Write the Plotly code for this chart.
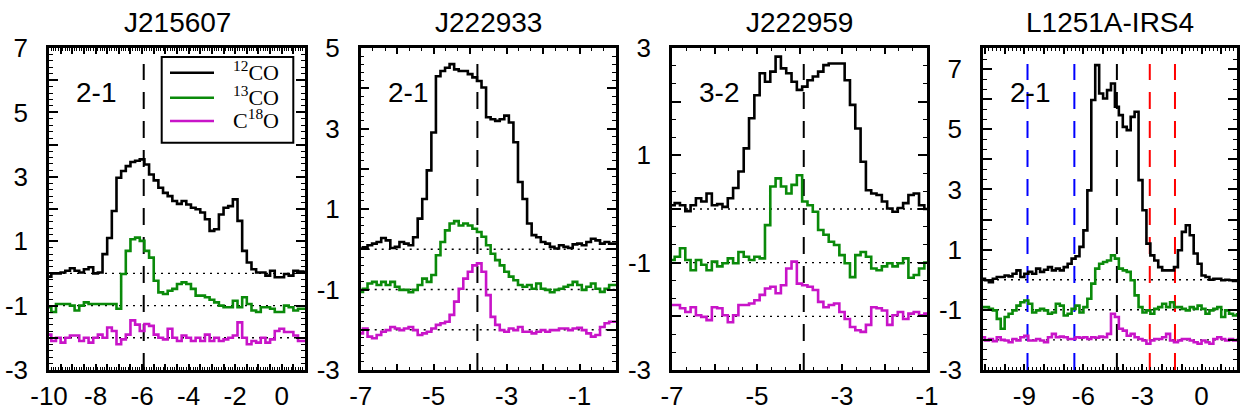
import plotly.graph_objects as go

W, H = 1241, 417

# ---------------- data ----------------
TITLES = ["J215607", "J222933", "J222959", "L1251A-IRS4"]
TRANSITIONS = ["2-1", "2-1", "3-2", "2-1"]
SPECIES = ["<sup>12</sup>CO", "<sup>13</sup>CO", "C<sup>18</sup>O"]
OFFSETS = [0, -1, -2]
COLORS = ["#000000", "#0a8a0a", "#c814c8"]

# J215607 (channels start at v0, width dv, km/s)
P1_V0, P1_DV = -10.0, 0.2
P1_12CO = [-0.1, 0.0, 0.0, 0.03, 0.08, 0.16, 0.08, 0.03, 0.13, 0.19, 0.0, 0.03, 0.6, 1.1, 1.94,
           2.97, 3.18, 3.33, 3.46, 3.5, 3.54, 3.38, 3.07, 2.89, 2.66, 2.5, 2.4, 2.25, 2.16, 2.25,
           2.14, 2.04, 1.99, 1.89, 1.68, 1.32, 1.37, 1.83, 2.04, 2.09, 2.3, 1.63, 0.7, 0.34, 0.13,
           0.03, 0.03, -0.07, 0.08, -0.12, -0.12, -0.02, -0.07, 0.08, 0.06, 0.05]
P1_13CO = [-0.05, -0.2, 0.05, 0.05, 0.05, 0.0, -0.15, 0.0, 0.1, 0.05, 0.05, 0.05, 0.05, 0.05, 0.05,
           -0.1, 0.98, 1.7, 2.06, 2.11, 2.01, 1.7, 1.49, 0.77, 0.41, 0.36, 0.46, 0.52, 0.67, 0.72,
           0.67, 0.52, 0.31, 0.31, 0.26, 0.18, 0.1, 0.0, -0.05, -0.05, 0.15, -0.05, 0.26, 0.05, -0.15,
           -0.2, -0.05, -0.05, -0.1, -0.2, -0.2, 0.0, -0.05, -0.15, -0.1, -0.1]
P1_C18O = [0.1, -0.1, 0.0, -0.15, 0.0, 0.07, 0.07, -0.1, 0.0, -0.15, 0.0, 0.1, 0.0, 0.32, 0.21,
           -0.2, -0.05, 0.1, 0.54, 0.41, 0.21, 0.43, 0.37, 0.1, 0.0, -0.05, 0.28, 0.0, -0.1, 0.07,
           0.0, -0.1, 0.0, -0.1, 0.1, -0.1, 0.0, -0.1, -0.05, 0.0, 0.07, 0.48, 0.0, -0.2, -0.1,
           -0.15, 0.0, -0.15, -0.05, 0.21, 0.28, 0.18, 0.18, 0.07, -0.1, -0.1]

# J222933
P2_V0, P2_DV = -7.0, 0.125
P2_12CO = [0.02, 0.05, 0.1, 0.14, 0.18, 0.28, 0.22, 0.03, 0.06, 0.18, 0.14, 0.1, 0.3, 0.76, 1.25,
           1.96, 2.9, 4.3, 4.43, 4.51, 4.6, 4.47, 4.43, 4.43, 4.35, 4.27, 4.18, 4.02, 3.28, 3.23,
           3.19, 3.23, 3.32, 3.15, 2.66, 1.67, 1.25, 0.64, 0.35, 0.3, 0.18, 0.14, 0.06, 0.02, 0.1,
           0.06, 0.03, 0.12, 0.14, 0.1, 0.18, 0.26, 0.22, 0.14, 0.18, 0.14, 0.14]
P2_13CO = [-0.06, 0.02, 0.15, 0.19, 0.11, 0.19, 0.11, 0.19, 0.07, -0.01, -0.01, -0.07, -0.01, 0.11,
           0.27, 0.19, 0.36, 0.85, 1.18, 1.47, 1.64, 1.7, 1.59, 1.64, 1.59, 1.51, 1.43, 1.31, 1.1,
           0.89, 0.73, 0.6, 0.44, 0.32, 0.23, 0.11, 0.07, 0.11, 0.02, 0.15, 0.02, -0.01, -0.07,
           -0.01, 0.02, 0.07, 0.11, 0.19, 0.11, -0.01, 0.07, 0.15, 0.02, -0.06, 0.02, 0.11, 0.11]
P2_C18O = [-0.09, 0.03, -0.17, -0.21, -0.13, -0.05, -0.01, 0.07, 0.03, -0.01, 0.03, 0.07, -0.01,
           -0.13, -0.09, -0.05, 0.03, 0.12, 0.16, 0.2, 0.37, 0.7, 1.02, 1.27, 1.44, 1.6, 1.65, 1.44,
           0.86, 0.32, 0.12, -0.01, -0.05, 0.03, -0.01, 0.07, -0.05, -0.05, -0.09, -0.05, -0.01,
           -0.05, -0.01, -0.01, 0.03, 0.03, -0.01, 0.03, 0.05, -0.01, -0.09, -0.17, -0.13, 0.07,
           0.16, 0.2, 0.2]

# J222959
P3_V0, P3_DV = -7.0, 0.125
P3_12CO = [0.07, 0.11, 0.07, -0.04, 0.07, 0.2, 0.14, 0.29, 0.07, 0.09, 0.04, 0.2, 0.39, 0.7, 1.13,
           1.69, 2.12, 2.53, 2.37, 2.56, 2.84, 2.62, 2.53, 2.37, 2.22, 2.28, 2.4, 2.47, 2.56, 2.68,
           2.71, 2.71, 2.71, 2.4, 1.94, 1.5, 0.88, 0.35, 0.29, 0.26, 0.14, 0.01, -0.05, 0.02, 0.11,
           0.26, 0.29, 0.07, 0.0]
P3_13CO = [0.05, 0.11, 0.27, 0.05, -0.14, 0.05, -0.04, -0.14, 0.02, -0.07, -0.01, 0.08, -0.01, 0.2,
           0.11, 0.05, 0.11, 0.08, 0.7, 1.42, 1.57, 1.42, 1.29, 1.45, 1.63, 1.14, 1.07, 0.95, 0.61,
           0.52, 0.39, 0.33, 0.14, -0.01, -0.27, 0.14, 0.2, 0.11, -0.11, -0.14, -0.07, -0.01, -0.07,
           -0.01, 0.08, -0.28, -0.23, -0.11, 0.0]
P3_C18O = [0.21, 0.21, 0.15, 0.08, 0.17, 0.02, -0.01, -0.07, 0.17, 0.15, 0.02, -0.11, 0.02, 0.21,
           0.21, 0.24, 0.3, 0.4, 0.52, 0.55, 0.43, 0.58, 0.89, 1.02, 0.61, 0.58, 0.55, 0.49, 0.27,
           0.17, 0.21, 0.24, 0.08, -0.05, -0.2, -0.26, -0.29, -0.16, 0.17, 0.15, 0.11, -0.16, 0.02,
           0.08, -0.05, 0.05, 0.08, 0.02, 0.05]

# L1251A-IRS4
P4_V0, P4_DV = -11.1, 0.2
P4_12CO = [0.03, -0.02, -0.08, 0.03, 0.09, 0.09, 0.14, 0.11, 0.2, 0.31, 0.09, 0.2, 0.26, 0.2, 0.37,
           0.26, 0.33, 0.42, 0.31, 0.37, 0.31, 0.42, 0.53, 0.7, 0.78, 1.09, 1.64, 2.97, 5.97, 7.13,
           6.19, 6.02, 6.3, 6.52, 5.75, 5.47, 5.08, 4.97, 5.41, 5.58, 3.31, 2.31, 1.2, 0.81, 0.64,
           0.42, 0.31, 0.31, 0.31, 0.42, 0.98, 1.59, 1.81, 1.48, 0.87, 0.53, 0.14, 0.09, 0.0, 0.03,
           0.03, -0.02, 0.0, -0.02, -0.04, -0.02]
P4_13CO = [0.09, 0.09, 0.03, -0.02, -0.3, -0.63, -0.24, -0.13, -0.02, 0.14, 0.25, 0.31, 0.2, -0.09,
           -0.02, 0.03, -0.02, -0.13, -0.09, 0.2, 0.14, -0.19, -0.13, 0.03, 0.14, -0.09, 0.09, 0.37,
           0.87, 1.37, 1.53, 1.59, 1.64, 1.81, 1.7, 1.37, 1.31, 1.26, 0.98, 0.48, 0.09, -0.09, -0.02,
           -0.13, 0.03, 0.09, 0.2, 0.09, 0.25, 0.09, 0.09, 0.03, -0.02, 0.09, 0.03, 0.14, 0.03,
           -0.13, -0.02, 0.03, 0.09, -0.24, -0.02, -0.13, -0.19, -0.15]
P4_C18O = [0.09, -0.02, 0.03, -0.04, 0.09, 0.0, -0.02, -0.08, 0.03, -0.02, 0.09, 0.14, -0.02, -0.02,
           0.03, -0.02, -0.08, 0.09, 0.2, 0.09, 0.11, 0.09, 0.03, 0.03, 0.09, 0.07, 0.09, 0.03, 0.09,
           0.07, 0.11, 0.09, 0.2, 0.87, 0.76, 0.37, 0.31, 0.14, 0.2, 0.09, 0.03, -0.02, -0.13, -0.02,
           0.03, 0.03, 0.09, 0.2, -0.02, -0.08, -0.02, 0.03, 0.03, -0.02, -0.08, -0.13, -0.02, -0.08,
           -0.13, 0.03, 0.09, 0.03, -0.02, 0.03, -0.02, 0.0]

# systemic / reference velocities (vertical dashed lines)
P1_VLINES, P1_VLINE_COLORS = [-5.93], ["black"]
P2_VLINES, P2_VLINE_COLORS = [-3.8], ["black"]
P3_VLINES, P3_VLINE_COLORS = [-3.9], ["black"]
P4_VLINES = [-8.84, -6.46, -4.3, -2.63, -1.35]
P4_VLINE_COLORS = ["blue", "blue", "black", "red", "red"]

# tick labels
P1_XTICKS, P1_XTEXT = [-10, -8, -6, -4, -2, 0], ["-10", "-8", "-6", "-4", "-2", "0"]
P2_XTICKS, P2_XTEXT = [-7, -5, -3, -1], ["-7", "-5", "-3", "-1"]
P3_XTICKS, P3_XTEXT = [-7, -5, -3, -1], ["-7", "-5", "-3", "-1"]
P4_XTICKS, P4_XTEXT = [-9, -6, -3, 0], ["-9", "-6", "-3", "0"]
P1_YTICKS, P1_YTEXT = [-3, -1, 1, 3, 5, 7], ["-3", "-1", "1", "3", "5", "7"]
P2_YTICKS, P2_YTEXT = [-3, -1, 1, 3, 5], ["-3", "-1", "1", "3", "5"]
P3_YTICKS, P3_YTEXT = [-3, -1, 1, 3], ["-3", "-1", "1", "3"]
P4_YTICKS, P4_YTEXT = [-3, -1, 1, 3, 5, 7], ["-3", "-1", "1", "3", "5", "7"]

# ---------------- layout / style ----------------
PANELS = [
    dict(v0=P1_V0, dv=P1_DV, spectra=[P1_12CO, P1_13CO, P1_C18O], vlines=P1_VLINES,
         vcolors=P1_VLINE_COLORS, xt=(P1_XTICKS, P1_XTEXT), yt=(P1_YTICKS, P1_YTEXT),
         px=(49, 305), xr=[-10, 1], yr=[-3, 7], xmaj=0.5, xmin=0.1, ymin=0.2),
    dict(v0=P2_V0, dv=P2_DV, spectra=[P2_12CO, P2_13CO, P2_C18O], vlines=P2_VLINES,
         vcolors=P2_VLINE_COLORS, xt=(P2_XTICKS, P2_XTEXT), yt=(P2_YTICKS, P2_YTEXT),
         px=(360.7, 616), xr=[-7, 0], yr=[-3, 5], xmaj=1, xmin=1 / 3, ymin=0.2),
    dict(v0=P3_V0, dv=P3_DV, spectra=[P3_12CO, P3_13CO, P3_C18O], vlines=P3_VLINES,
         vcolors=P3_VLINE_COLORS, xt=(P3_XTICKS, P3_XTEXT), yt=(P3_YTICKS, P3_YTEXT),
         px=(672, 927), xr=[-7, -1], yr=[-3, 3], xmaj=1, xmin=1 / 3, ymin=1 / 3),
    dict(v0=P4_V0, dv=P4_DV, spectra=[P4_12CO, P4_13CO, P4_C18O], vlines=P4_VLINES,
         vcolors=P4_VLINE_COLORS, xt=(P4_XTICKS, P4_XTEXT), yt=(P4_YTICKS, P4_YTEXT),
         px=(983, 1237), xr=[-11.1, 1.8], yr=[-3, 7.7], xmaj=1, xmin=0.2, ymin=1 / 3),
]
TOP_PX, BOT_PX = 48, 370
SANS = "Liberation Sans"
SERIF = "Liberation Serif"


def grid(a, b, step):
    import math
    start = math.ceil(a / step - 1e-9)
    stop = math.floor(b / step + 1e-9)
    return [round(k * step, 6) for k in range(start, stop + 1)]


def labelled(vals, ticks, texts):
    lut = {round(t, 6): s for t, s in zip(ticks, texts)}
    return [lut.get(round(v, 6), "") for v in vals]


fig = go.Figure()
shapes, annotations = [], []
ydom = [(H - BOT_PX) / H, (H - TOP_PX) / H]

for i, p in enumerate(PANELS):
    n = i + 1
    xa = "x" if n == 1 else f"x{n}"
    ya = "y" if n == 1 else f"y{n}"
    for vals, off, col in zip(p["spectra"], OFFSETS, COLORS):
        vel = [round(p["v0"] + k * p["dv"], 5) for k in range(len(vals))]
        fig.add_trace(go.Scatter(x=vel, y=[t + off for t in vals], mode="lines",
                                 line=dict(color=col, width=2.6, shape="hvh"),
                                 xaxis=xa, yaxis=ya, showlegend=False, hoverinfo="skip"))
    # dotted baselines
    for off in OFFSETS:
        shapes.append(dict(type="line", xref=f"{xa} domain", x0=0, x1=1, yref=ya, y0=off, y1=off,
                           line=dict(color="black", width=1.4, dash="2px,5px"), layer="below"))
    # vertical dashed lines
    for v, c in zip(p["vlines"], p["vcolors"]):
        shapes.append(dict(type="line", xref=xa, x0=v, x1=v, yref=f"{ya} domain", y0=0, y1=0.95,
                           line=dict(color=c, width=2, dash="17px,12px"), layer="below"))

    xvals = grid(p["xr"][0], p["xr"][1], p["xmaj"])
    yvals = grid(p["yr"][0], p["yr"][1], 1)
    xdom = [p["px"][0] / W, p["px"][1] / W]
    axis_common = dict(showline=True, linecolor="black", linewidth=2.5, mirror="ticks",
                       ticks="inside", tickcolor="black", tickwidth=2, showgrid=False,
                       zeroline=False, tickfont=dict(family=SANS, size=26, color="black"),
                       tickmode="array", fixedrange=True, automargin=False)
    fig.layout[f"xaxis{'' if n == 1 else n}"] = dict(
        axis_common, domain=xdom, range=p["xr"], anchor=ya, tickvals=xvals,
        ticktext=labelled(xvals, *p["xt"]), ticklen=6, ticklabelstandoff=1,
        minor=dict(ticks="inside", ticklen=3, tickwidth=1.2, tickcolor="black",
                   dtick=p["xmin"], tick0=p["xr"][0] if n != 4 else -11, showgrid=False))
    fig.layout[f"yaxis{'' if n == 1 else n}"] = dict(
        axis_common, domain=ydom, range=p["yr"], anchor=xa, tickvals=yvals,
        ticktext=labelled(yvals, *p["yt"]), ticklen=9, ticklabelstandoff=13,
        minor=dict(ticks="inside", ticklen=4, tickwidth=1.2, tickcolor="black",
                   dtick=p["ymin"], tick0=-3, showgrid=False))

    # title and transition label
    annotations.append(dict(text=TITLES[i], xref="paper", yref="paper",
                            x=(xdom[0] + xdom[1]) / 2, y=1 - 23 / H, showarrow=False,
                            xanchor="center", yanchor="middle",
                            font=dict(family=SANS, size=28, color="black")))
    annotations.append(dict(text=TRANSITIONS[i], xref="paper", yref="paper",
                            x=(p["px"][0] + 47) / W, y=1 - 93 / H, showarrow=False,
                            xanchor="center", yanchor="middle",
                            font=dict(family=SANS, size=28, color="black")))

# legend box inside the first panel
LEG_BOX = (161.7, 57, 293.3, 142.7)
LEG_ROWS = [72.7, 97.7, 121.0]
shapes.append(dict(type="rect", xref="paper", yref="paper", x0=LEG_BOX[0] / W, x1=LEG_BOX[2] / W,
                   y0=1 - LEG_BOX[3] / H, y1=1 - LEG_BOX[1] / H,
                   line=dict(color="black", width=2), fillcolor="white", layer="above"))
for lab, col, ry in zip(SPECIES, COLORS, LEG_ROWS):
    shapes.append(dict(type="line", xref="paper", yref="paper", x0=170 / W, x1=214 / W,
                       y0=1 - ry / H, y1=1 - ry / H, line=dict(color=col, width=2.5),
                       layer="above"))
    annotations.append(dict(text=lab, xref="paper", yref="paper", x=231 / W, y=1 - (ry - 2) / H,
                            showarrow=False, xanchor="left", yanchor="middle",
                            font=dict(family=SERIF, size=22, color="black")))

fig.update_layout(width=W, height=H, margin=dict(l=0, r=0, t=0, b=0),
                  paper_bgcolor="white", plot_bgcolor="white",
                  shapes=shapes, annotations=annotations, showlegend=False)

fig.write_html("out.html")
